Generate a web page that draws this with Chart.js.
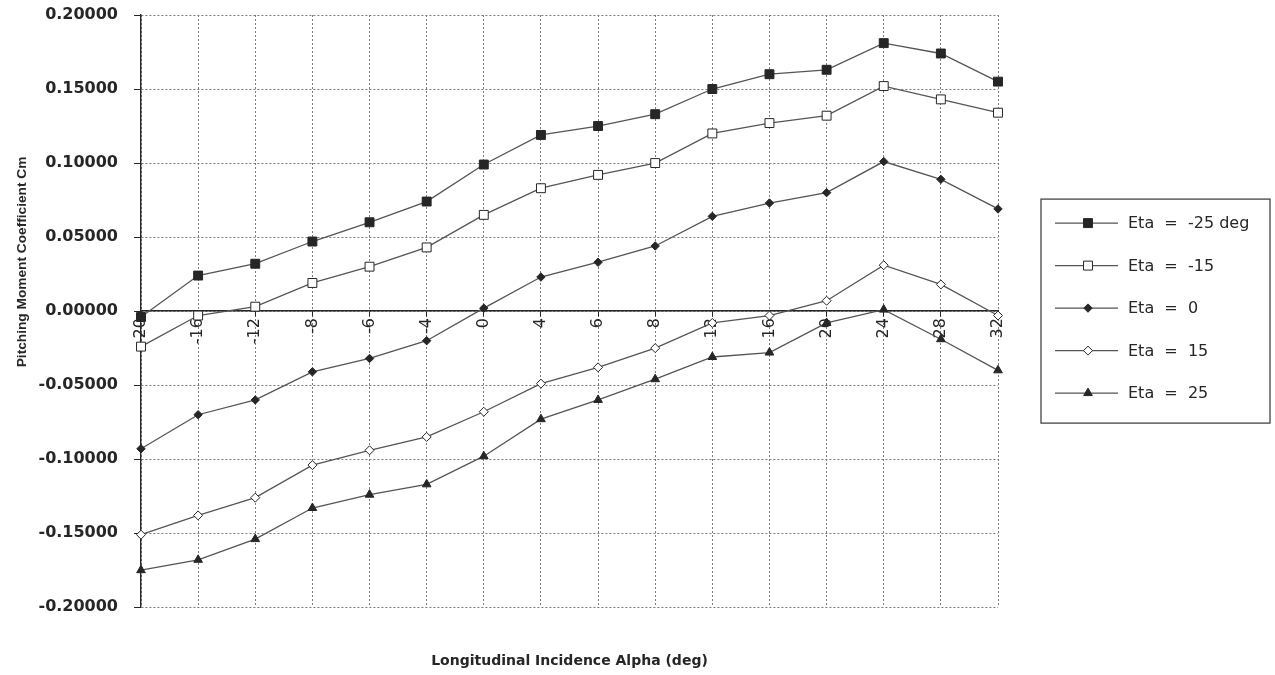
<!DOCTYPE html>
<html>
<head>
<meta charset="utf-8">
<script src="https://cdn.jsdelivr.net/npm/chart.js@4/dist/chart.umd.min.js"></script>
<style>
  html, body { margin: 0; padding: 0; background: #fff; }
  #wrap { width: 1275px; height: 675px; }
</style>
</head>
<body>
<div id="wrap"><canvas id="myChart"></canvas></div>
<script>
// incidence angles (deg), one category each
var alpha = ['-20', '-16', '-12', '-8', '-6', '-4', '0', '4', '6', '8', '12', '16', '20', '24', '28', '32'];

// pitching moment coefficient Cm for each elevator setting
var etaM25 = [-0.004, 0.024, 0.032, 0.047, 0.060, 0.074, 0.099, 0.119, 0.125, 0.133, 0.150, 0.160, 0.163, 0.181, 0.174, 0.155];
var etaM15 = [-0.024, -0.003, 0.003, 0.019, 0.030, 0.043, 0.065, 0.083, 0.092, 0.100, 0.120, 0.127, 0.132, 0.152, 0.143, 0.134];
var eta0 = [-0.093, -0.070, -0.060, -0.041, -0.032, -0.020, 0.002, 0.023, 0.033, 0.044, 0.064, 0.073, 0.080, 0.101, 0.089, 0.069];
var eta15 = [-0.151, -0.138, -0.126, -0.104, -0.094, -0.085, -0.068, -0.049, -0.038, -0.025, -0.008, -0.003, 0.007, 0.031, 0.018, -0.003];
var eta25 = [-0.175, -0.168, -0.154, -0.133, -0.124, -0.117, -0.098, -0.073, -0.060, -0.046, -0.031, -0.028, -0.008, 0.001, -0.019, -0.040];

var seriesNames = ['Eta  =  -25 deg', 'Eta  =  -15', 'Eta  =  0', 'Eta  =  15', 'Eta  =  25'];

var yTitle = 'Pitching Moment Coefficient Cm';
var xTitle = 'Longitudinal Incidence Alpha (deg)';

var ink = '#262626';
var lineInk = '#555555';
var gridInk = '#7a7a7a';

function series(label, data, style, radius, fill) {
    return {
        label: label,
        data: data,
        xAxisID: 'x',
        borderColor: lineInk,
        borderWidth: 1.3,
        pointStyle: style,
        pointRadius: radius,
        pointHoverRadius: radius,
        pointBackgroundColor: fill,
        pointBorderColor: ink,
        pointBorderWidth: 1,
        tension: 0,
        fill: false
    };
}

// y title sits a bit above centre, legend is a framed box right of the plot
var frame = {
    id: 'frame',
    afterDraw: function (chart) {
        var ctx = chart.ctx;
        var area = chart.chartArea;

        ctx.save();
        ctx.font = 'bold 13.7px "Liberation Sans", Arial, sans-serif';
        ctx.fillStyle = ink;
        ctx.textAlign = 'center';
        ctx.textBaseline = 'middle';
        ctx.translate(22, area.top + (area.bottom - area.top) * 0.417);
        ctx.rotate(-Math.PI / 2);
        ctx.fillText(yTitle, 0, 0);
        ctx.restore();

        var boxW = 229, boxH = 224;
        var left = area.right + 43;
        var top = (area.top + area.bottom) / 2 - boxH / 2;
        ctx.save();
        ctx.strokeStyle = '#444';
        ctx.lineWidth = 1.3;
        ctx.strokeRect(left, top, boxW, boxH);

        ctx.font = '16px "DejaVu Sans", sans-serif';
        ctx.textBaseline = 'middle';
        ctx.textAlign = 'left';
        chart.data.datasets.forEach(function (ds, i) {
            var y = top + 24 + i * 42.5;
            ctx.strokeStyle = ds.borderColor;
            ctx.lineWidth = ds.borderWidth;
            ctx.beginPath();
            ctx.moveTo(left + 14, y);
            ctx.lineTo(left + 77, y);
            ctx.stroke();

            ctx.fillStyle = ds.pointBackgroundColor;
            ctx.strokeStyle = ds.pointBorderColor;
            ctx.lineWidth = ds.pointBorderWidth;
            Chart.helpers.drawPoint(ctx, {
                pointStyle: ds.pointStyle,
                radius: ds.pointRadius,
                borderWidth: ds.pointBorderWidth,
                rotation: 0
            }, left + 47, y);

            ctx.fillStyle = ink;
            ctx.fillText(ds.label, left + 87, y + 1);
        });
        ctx.restore();
    }
};

var ctx = document.getElementById('myChart').getContext('2d');
var myChart = new Chart(ctx, {
    type: 'line',
    data: {
        labels: alpha,
        datasets: [
            series(seriesNames[0], etaM25, 'rect', 6.3, ink),
            series(seriesNames[1], etaM15, 'rect', 6.3, '#ffffff'),
            series(seriesNames[2], eta0, 'rectRot', 4.2, ink),
            series(seriesNames[3], eta15, 'rectRot', 4.5, '#ffffff'),
            series(seriesNames[4], eta25, 'triangle', 5, ink)
        ]
    },
    options: {
        responsive: true,
        maintainAspectRatio: false,
        animation: false,
        layout: {
            padding: { left: 0, top: 15, right: 277, bottom: 0 }
        },
        plugins: {
            legend: { display: false },
            tooltip: { enabled: false }
        },
        scales: {
            x: {
                type: 'category',
                position: 'bottom',
                offset: false,
                grid: {
                    color: gridInk,
                    lineWidth: 1,
                    drawTicks: false
                },
                border: { display: false, dash: [2, 2] },
                ticks: { display: false },
                title: {
                    display: true,
                    text: xTitle,
                    color: ink,
                    font: { family: '"DejaVu Sans", sans-serif', size: 14, weight: 'bold' },
                    padding: { top: 46, bottom: 5 }
                }
            },
            // the labelled axis runs along Cm = 0
            x0: {
                type: 'category',
                position: { y: 0 },
                offset: false,
                afterFit: function (scale) {
                    scale.paddingTop = 0;
                    scale.paddingBottom = 0;
                },
                grid: {
                    drawOnChartArea: false,
                    drawTicks: true,
                    tickLength: 5,
                    tickColor: ink
                },
                border: { display: true, color: ink, width: 1.4 },
                ticks: {
                    autoSkip: false,
                    minRotation: 90,
                    maxRotation: 90,
                    padding: 2,
                    color: ink,
                    font: { family: '"DejaVu Sans", sans-serif', size: 16 }
                }
            },
            y: {
                min: -0.2,
                max: 0.2,
                afterFit: function (scale) {
                    scale.width = 141;
                    scale.paddingTop = 0;
                    scale.paddingBottom = 0;
                },
                grid: {
                    color: gridInk,
                    lineWidth: 1,
                    drawTicks: true,
                    tickLength: 7,
                    tickColor: ink
                },
                border: { display: true, color: ink, width: 1.4, dash: [2, 2] },
                ticks: {
                    stepSize: 0.05,
                    padding: 16,
                    color: ink,
                    font: { family: '"DejaVu Sans", sans-serif', size: 16, weight: 'bold' },
                    callback: function (v) { return v.toFixed(5); }
                }
            }
        }
    },
    plugins: [frame]
});
</script>
</body>
</html>
